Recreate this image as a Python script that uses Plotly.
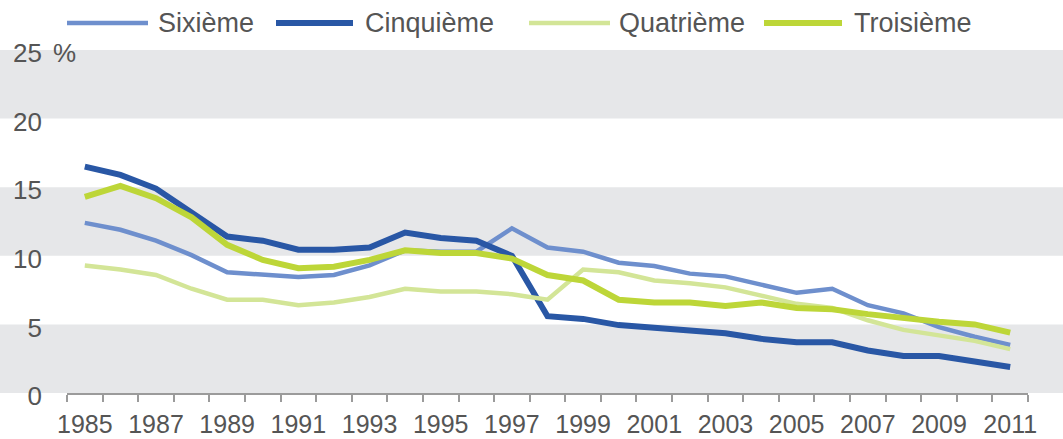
import plotly.graph_objects as go

years = list(range(1985, 2012))

sixieme = [12.4, 11.9, 11.1, 10.05, 8.8, 8.6, 8.45, 8.6, 9.3, 10.4, 10.3, 10.3, 12.0,
           10.6, 10.3, 9.5, 9.25, 8.7, 8.5, 7.9, 7.3, 7.6, 6.4, 5.8, 4.8, 4.1, 3.5]
cinquieme = [16.5, 15.9, 14.9, 13.2, 11.4, 11.1, 10.45, 10.45, 10.6, 11.7, 11.3, 11.1, 10.0,
             5.6, 5.4, 4.95, 4.75, 4.55, 4.35, 3.95, 3.7, 3.7, 3.1, 2.7, 2.7, 2.3, 1.9]
quatrieme = [9.3, 9.0, 8.6, 7.6, 6.8, 6.8, 6.4, 6.6, 7.0, 7.6, 7.4, 7.4, 7.2,
             6.8, 9.0, 8.8, 8.2, 8.0, 7.7, 7.1, 6.5, 6.2, 5.3, 4.6, 4.2, 3.8, 3.2]
troisieme = [14.3, 15.1, 14.2, 12.8, 10.8, 9.7, 9.1, 9.2, 9.7, 10.4, 10.2, 10.2, 9.8,
             8.6, 8.2, 6.8, 6.6, 6.6, 6.35, 6.6, 6.2, 6.1, 5.75, 5.45, 5.2, 5.0, 4.4]

series_names = ["Sixième", "Cinquième", "Quatrième", "Troisième"]
series_values = [sixieme, cinquieme, quatrieme, troisieme]
series_colors = ["#6E8FCD", "#2957A5", "#D3E597", "#BDD638"]
series_widths = [4.5, 6, 4.5, 6]

y_ticks = [0, 5, 10, 15, 20, 25]
x_ticks = list(range(1985, 2012, 2))
bands = [(0, 5), (10, 15), (20, 25)]

W, H = 1063, 439
L, R, T, B = 67, 35, 50, 46
pw, ph = W - L - R, H - T - B
ymax = 25

def px_x(p):
    return (p - L) / pw

def px_y(p):
    return (H - B - p) / ph

font_family = "Liberation Sans, Arial, sans-serif"
text_color = "#555555"

fig = go.Figure()
for name, vals, col, w in zip(series_names, series_values, series_colors, series_widths):
    fig.add_trace(go.Scatter(x=years, y=vals, mode="lines", name=name,
                             line=dict(color=col, width=w), showlegend=False))

shapes = []
for y0, y1 in bands:
    shapes.append(dict(type="rect", xref="paper", yref="paper",
                       x0=px_x(0), x1=px_x(W), y0=y0 / ymax, y1=y1 / ymax,
                       fillcolor="#E6E7E9", line=dict(width=0), layer="below"))

# manual legend
leg_lines = [(67, 148), (276, 353), (529, 610), (764, 842)]
leg_text_x = [156, 363, 617, 852]
leg_y = 23
annotations = []
for (a, b), tx, name, col, w in zip(leg_lines, leg_text_x, series_names, series_colors, series_widths):
    shapes.append(dict(type="line", xref="paper", yref="paper",
                       x0=px_x(a), x1=px_x(b), y0=px_y(leg_y), y1=px_y(leg_y),
                       line=dict(color=col, width=w)))
    annotations.append(dict(xref="paper", yref="paper", x=px_x(tx), y=px_y(leg_y),
                            xanchor="left", yanchor="middle", text=name, showarrow=False,
                            font=dict(size=27, color=text_color, family=font_family)))

annotations.append(dict(xref="paper", yref="paper", x=px_x(51), y=px_y(53),
                        xanchor="left", yanchor="middle", text="%", showarrow=False,
                        font=dict(size=26, color=text_color, family=font_family)))

fig.update_layout(
    width=W, height=H,
    margin=dict(l=L, r=R, t=T, b=B, pad=0, autoexpand=False),
    paper_bgcolor="white", plot_bgcolor="rgba(0,0,0,0)",
    shapes=shapes, annotations=annotations,
    font=dict(family=font_family, size=26, color=text_color),
    xaxis=dict(range=[1984.5, 2011.5], tickmode="array", tickvals=x_ticks,
               ticktext=[str(v) for v in x_ticks], ticks="", showgrid=False,
               zeroline=False, showline=True, linecolor="#9B9B9B", linewidth=2,
               ticklabelstandoff=8, automargin=False,
               minor=dict(tickmode="linear", tick0=1984.5, dtick=1, ticks="outside",
                          ticklen=7, tickcolor="#9B9B9B", tickwidth=1.5, showgrid=False),
               tickfont=dict(size=25, color=text_color, family=font_family)),
    yaxis=dict(range=[0, ymax], tickmode="array", tickvals=y_ticks,
               ticktext=[str(v) for v in y_ticks], ticks="", showgrid=False,
               zeroline=False, showline=False, ticklabelstandoff=24, ticklabelshift=3,
               automargin=False,
               tickfont=dict(size=26, color=text_color, family=font_family)),
)

fig.write_html("out.html", config={"displayModeBar": False},
               post_script="document.body.style.margin='0';document.body.style.overflow='hidden';")
